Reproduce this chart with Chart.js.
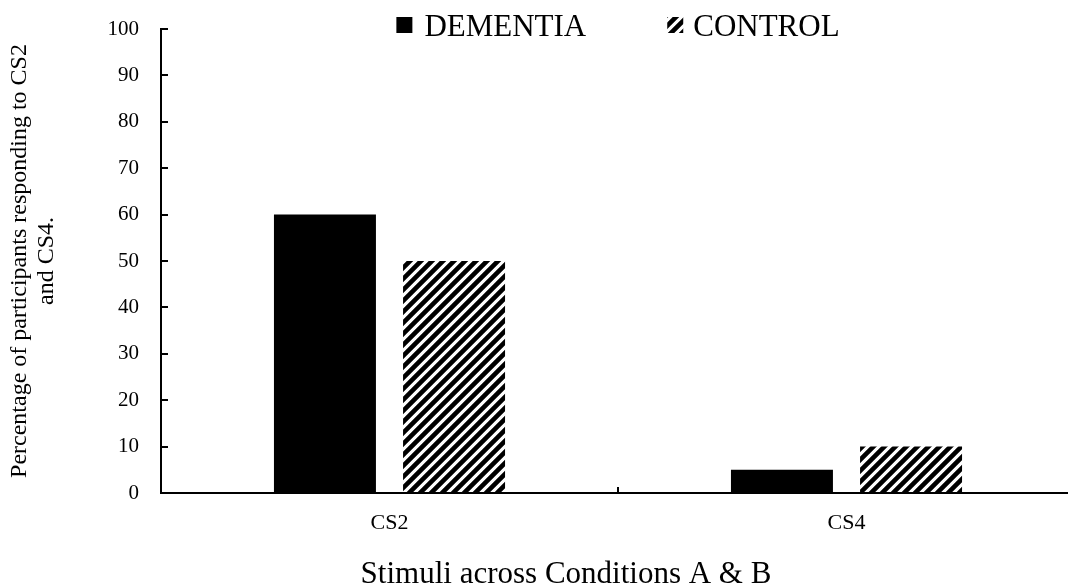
<!DOCTYPE html>
<html>
<head>
<meta charset="utf-8">
<script src="https://cdn.jsdelivr.net/npm/chart.js@4/dist/chart.umd.min.js"></script>
<style>
    html, body { margin: 0; padding: 0; background: #fff; overflow: hidden; }
    #contenedor { width: 1076px; height: 588px; }
</style>
</head>
<body>
<div id="contenedor"><canvas id="graficoEstimulos" width="1076" height="588"></canvas></div>
<script>
// Datos del gráfico
const categorias = ['CS2', 'CS4'];
const valoresDemencia = [60, 5];
const valoresControl = [50, 10];
const nombresSeries = ['DEMENTIA', 'CONTROL'];
const ejeYMin = 0;
const ejeYMax = 100;
const ejeYPaso = 10;
const tituloY = ['Percentage of participants responding to CS2', 'and CS4.'];
const tituloX = 'Stimuli across Conditions A & B';

const FUENTE = "'Liberation Serif', 'Times New Roman', serif";

// Rayado diagonal para la serie de control
function crearRayado() {
    const s = 11;
    const c = document.createElement('canvas');
    c.width = s;
    c.height = s;
    const g = c.getContext('2d');
    g.fillStyle = '#fff';
    g.fillRect(0, 0, s, s);
    g.strokeStyle = '#000';
    g.lineWidth = 4.6;
    g.beginPath();
    g.moveTo(-s, s); g.lineTo(s, -s);
    g.moveTo(0, s); g.lineTo(s, 0);
    g.moveTo(0, 2 * s); g.lineTo(2 * s, 0);
    g.stroke();
    return g.createPattern(c, 'repeat');
}

const rayado = crearRayado();

// Leyenda dibujada dentro del área superior
const leyendaPlugin = {
    id: 'leyendaSuperior',
    afterDraw(chart) {
        const ctx = chart.ctx;
        const area = chart.chartArea;
        ctx.save();
        ctx.font = '31px ' + FUENTE;
        ctx.textBaseline = 'alphabetic';
        ctx.fillStyle = '#000';
        const caja = 16;
        const w1 = ctx.measureText(nombresSeries[0]).width;
        const w2 = ctx.measureText(nombresSeries[1]).width;
        const total = caja + 12 + w1 + 81 + caja + 10 + w2;
        let x = (area.left + area.right) / 2 - total / 2;
        const base = 36;
        chart.data.datasets.forEach((ds, i) => {
            ctx.fillStyle = ds.backgroundColor;
            ctx.fillRect(x, 17, caja, caja);
            x += caja + (i === 0 ? 12 : 10);
            ctx.fillStyle = '#000';
            ctx.fillText(ds.label, x, base);
            x += (i === 0 ? w1 : w2) + 81;
        });
        ctx.restore();
    }
};

// Título del eje X
const tituloXPlugin = {
    id: 'tituloEjeX',
    afterDraw(chart) {
        const ctx = chart.ctx;
        ctx.save();
        ctx.font = '31px ' + FUENTE;
        ctx.fillStyle = '#000';
        ctx.textAlign = 'center';
        ctx.textBaseline = 'alphabetic';
        ctx.fillText(tituloX, 566, 583);
        ctx.restore();
    }
};

const ctx = document.getElementById('graficoEstimulos');

new Chart(ctx, {
    type: 'bar',
    data: {
        labels: categorias,
        datasets: [
            {
                label: nombresSeries[0],
                data: valoresDemencia,
                backgroundColor: '#000',
                borderWidth: 0,
                categoryPercentage: 0.565,
                barPercentage: 0.79
            },
            {
                label: nombresSeries[1],
                data: valoresControl,
                backgroundColor: rayado,
                borderWidth: 0,
                categoryPercentage: 0.565,
                barPercentage: 0.79
            }
        ]
    },
    options: {
        responsive: false,
        animation: false,
        layout: { padding: { top: 29, right: 1, left: 0, bottom: 0 } },
        plugins: {
            legend: { display: false },
            tooltip: { enabled: false }
        },
        scales: {
            x: {
                offset: true,
                grid: {
                    display: true,
                    drawOnChartArea: false,
                    offset: true,
                    tickLength: -6,
                    color: '#000',
                    lineWidth: 2
                },
                border: { display: true, color: '#000', width: 2 },
                ticks: {
                    color: '#000',
                    font: { family: FUENTE, size: 22 },
                    padding: 23
                },
                afterFit: function(scale) {
                    scale.height = 95;
                }
            },
            y: {
                min: ejeYMin,
                max: ejeYMax,
                ticks: {
                    stepSize: ejeYPaso,
                    color: '#000',
                    font: { family: FUENTE, size: 21 },
                    padding: 29
                },
                grid: {
                    drawOnChartArea: false,
                    tickLength: -7,
                    color: '#000',
                    lineWidth: 2
                },
                border: { display: true, color: '#000', width: 2 },
                title: {
                    display: true,
                    text: tituloY,
                    color: '#000',
                    font: { family: FUENTE, size: 24, lineHeight: 1.1 },
                    padding: { top: 7, bottom: 0 }
                },
                afterFit: function(scale) {
                    scale.width = 161;
                    // el padding de las etiquetas no debe empujar el área del gráfico
                    scale.paddingTop = 0;
                    scale.paddingBottom = 0;
                }
            }
        }
    },
    plugins: [leyendaPlugin, tituloXPlugin]
});
</script>
</body>
</html>
